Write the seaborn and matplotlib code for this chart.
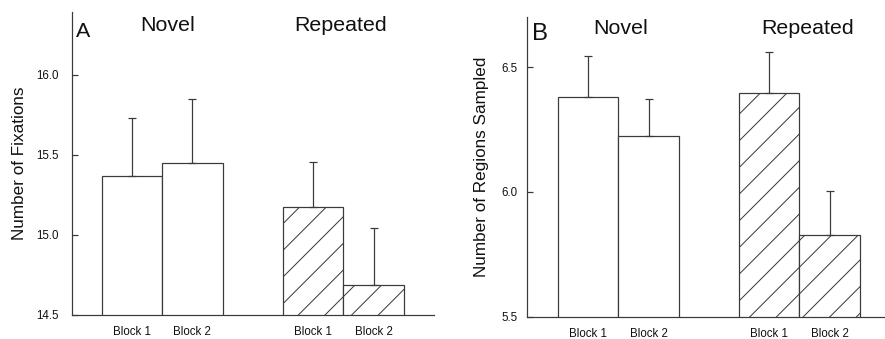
import pandas as pd
import matplotlib.pyplot as plt
import seaborn as sns

conditions = ['Novel Block 1', 'Novel Block 2', 'Repeated Block 1', 'Repeated Block 2']
order = ['Novel Block 1', 'Novel Block 2', 'gap', 'Repeated Block 1', 'Repeated Block 2']
tick_labels = ['Block 1', 'Block 2', '', 'Block 1', 'Block 2']

fix_mean = [15.365, 15.447, 15.176, 14.690]
fix_err = [0.362, 0.400, 0.279, 0.352]

reg_mean = [6.382, 6.225, 6.398, 5.826]
reg_err = [0.161, 0.149, 0.162, 0.179]

sns.set_theme(style='ticks')
plt.rcParams['font.family'] = ['Liberation Sans', 'DejaVu Sans']
plt.rcParams['hatch.linewidth'] = 0.45
plt.rcParams['hatch.color'] = '#3a3a3a'

df = pd.DataFrame({'cond': conditions, 'fix': fix_mean, 'reg': reg_mean})

dpi = 160
fig = plt.figure(figsize=(885 / dpi, 339 / dpi), dpi=dpi)
axA = fig.add_axes([0.0814, 0.0708, 0.4090, 0.8938])
axB = fig.add_axes([0.5958, 0.0658, 0.4042, 0.8832])

edge = '#3a3a3a'


def panel(ax, col, err, ylim, yticks, xlim, ylabel, letter, letter_size,
          head_y, head_x, letter_y, tick_pad, label_pad):
    sns.barplot(data=df, x='cond', y=col, order=order, width=1.0,
                color='white', saturation=1, edgecolor=edge, linewidth=0.55,
                errorbar=None, ax=ax)
    xs = []
    for p in ax.patches:
        cx = p.get_x() + p.get_width() / 2
        xs.append(cx)
        if cx > 2.5:
            p.set_hatch('//')
    ax.errorbar(xs, [df.loc[i, col] for i in range(len(xs))],
                yerr=[[0] * len(err), err], fmt='none', ecolor=edge,
                elinewidth=0.55, capsize=2.0, capthick=0.55, zorder=1)
    ax.set_ylim(*ylim)
    ax.set_xlim(*xlim)
    ax.set_yticks(yticks)
    ax.set_yticklabels([f'{t:.1f}' for t in yticks])
    ax.set_xticks(range(len(order)))
    ax.set_xticklabels(tick_labels)
    ax.tick_params(axis='x', length=0, pad=5, labelsize=5.2, labelcolor='#111111')
    ax.tick_params(axis='y', direction='in', length=2.7, width=0.55, color=edge,
                   pad=tick_pad, labelsize=5.2, labelcolor='#111111')
    ax.set_xlabel('')
    ax.set_ylabel(ylabel, fontsize=7.7, color='#111111', labelpad=label_pad)
    for s in ['top', 'right']:
        ax.spines[s].set_visible(False)
    for s in ['left', 'bottom']:
        ax.spines[s].set_color(edge)
        ax.spines[s].set_linewidth(0.55)
    tr = ax.get_xaxis_transform()
    ax.text(head_x[0], head_y, 'Novel', transform=tr, ha='center', va='center',
            fontsize=9.6, color='#111111')
    ax.text(head_x[1], head_y, 'Repeated', transform=tr, ha='center', va='center',
            fontsize=9.6, color='#111111')
    ax.text(0.012, letter_y, letter, transform=ax.transAxes, ha='left', va='center',
            fontsize=letter_size, color='#111111')


panel(axA, 'fix', fix_err, (14.5, 16.39), [14.5, 15.0, 15.5, 16.0], (-0.99, 5.0),
      'Number of Fixations', 'A', 9.6, 0.957, (0.6, 3.46), 0.934, 6.2, 4.0)
panel(axB, 'reg', reg_err, (5.5, 6.70), [5.5, 6.0, 6.5], (-1.01, 4.92),
      'Number of Regions Sampled', 'B', 10.8, 0.962, (0.53, 3.64), 0.944, 4.3, 5.5)

plt.savefig('out.png', dpi=dpi)
plt.close()
